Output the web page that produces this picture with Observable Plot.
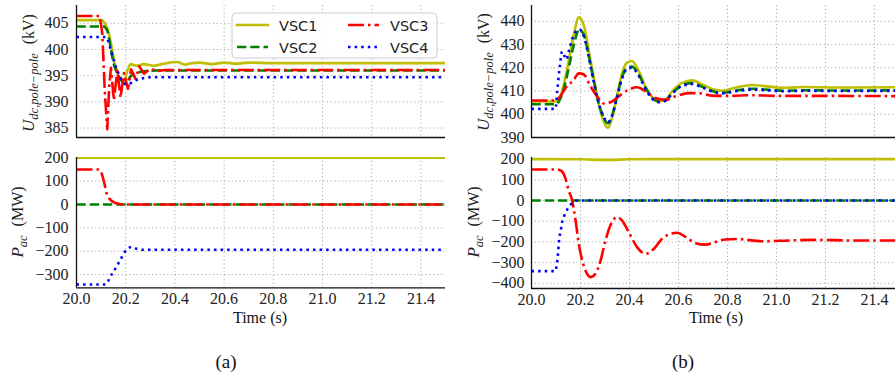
<!DOCTYPE html>
<html><head><meta charset="utf-8">
<script src="https://cdn.jsdelivr.net/npm/d3@7"></script>
<script src="https://cdn.jsdelivr.net/npm/@observablehq/plot@0.6"></script>
<style>
html,body{margin:0;padding:0;background:#fff;overflow:hidden}
#wrap{position:relative;width:895px;height:373px;overflow:hidden}
#wrap svg{position:absolute;max-width:none}
#wrap svg text, #wrap svg tspan{font-family:'Liberation Serif','Times New Roman',serif}
#wrap svg text.leg{font-family:'DejaVu Sans',sans-serif}
</style></head><body><div id="wrap"></div>
<script>
// ---------- tick values ----------
const xTicks = [20.0, 20.2, 20.4, 20.6, 20.8, 21.0, 21.2, 21.4];
const aTopTicks = [385, 390, 395, 400, 405];
const aBotTicks = [-300, -200, -100, 0, 100, 200];
const bTopTicks = [390, 400, 410, 420, 430, 440];
const bBotTicks = [-400, -300, -200, -100, 0, 100, 200];
const seriesNames = ["VSC1", "VSC2", "VSC3", "VSC4"];

// ---------- (a) U_dc [time s, kV] ----------
const aU_VSC1 = [[20,405.6],[20.10,405.6],[20.111,405.3],[20.132,403],[20.145,399.9],[20.158,396.7],[20.179,394.5],[20.195,394.2],[20.206,395.8],[20.22,397.2],[20.245,396.9],[20.274,397.2],[20.315,396.9],[20.356,397.3],[20.41,397.6],[20.44,397.1],[20.47,397.4],[20.50,397.5],[20.55,397.2],[20.60,397.5],[20.65,397.3],[20.70,397.5],[20.80,397.4],[21.0,397.4],[21.5,397.4]];
const aU_VSC2 = [[20,404.4],[20.11,404.4],[20.125,403.6],[20.139,400.3],[20.152,397.1],[20.166,395.5],[20.186,393.9],[20.206,394.0],[20.22,394.9],[20.25,395.6],[20.29,395.9],[20.33,396.0],[21.5,396.0]];
const aU_VSC3 = [[20,406.4],[20.095,406.4],[20.105,403],[20.115,392],[20.125,384.8],[20.133,393],[20.14,396.5],[20.152,390.3],[20.166,396.0],[20.179,390.8],[20.193,395.5],[20.209,392.5],[20.222,396.2],[20.24,394.4],[20.255,396.8],[20.274,395.4],[20.30,396.3],[20.33,395.9],[20.36,396.1],[21.5,396.1]];
const aU_VSC4 = [[20,402.4],[20.12,402.4],[20.13,401.5],[20.14,399.8],[20.155,397.4],[20.17,395.5],[20.18,394.5],[20.195,393.5],[20.21,393.3],[20.23,393.9],[20.26,394.4],[20.30,394.7],[21.5,394.7]];

// ---------- (a) P_ac [time s, MW] ----------
const aP_VSC1 = [[20,200],[21.5,200]];
const aP_VSC2 = [[20,0],[21.5,0]];
const aP_VSC3 = [[20,150],[20.09,150],[20.10,140],[20.11,105],[20.125,40],[20.14,18],[20.155,8],[20.17,3],[20.19,0],[21.5,0]];
const aP_VSC4 = [[20,-343],[20.118,-343],[20.128,-330],[20.138,-308],[20.152,-285],[20.166,-260],[20.179,-236],[20.196,-204],[20.21,-188],[20.225,-182],[20.245,-190],[20.27,-194],[21.5,-194]];

// ---------- (b) U_dc [time s, kV] ----------
const bU_VSC1 = [[20,405.5],[20.10,405.5],[20.112,406.2],[20.132,412.8],[20.152,422.9],[20.173,434.5],[20.193,441.7],[20.214,438.1],[20.234,427.2],[20.254,415.7],[20.275,404.1],[20.295,396.8],[20.312,394.2],[20.329,398.3],[20.35,408.4],[20.37,417.8],[20.39,422.2],[20.41,422.9],[20.438,418.6],[20.465,412],[20.49,407.7],[20.52,405.5],[20.547,406.2],[20.574,409.9],[20.615,413.5],[20.656,414.6],[20.697,412.8],[20.737,410.9],[20.778,410.1],[20.84,411.6],[20.90,412.6],[20.96,412.0],[21.03,411.4],[21.12,411.7],[21.25,411.5],[21.5,411.6]];
const bU_VSC2 = [[20,404.3],[20.10,404.3],[20.112,405.5],[20.132,411],[20.152,420],[20.173,430],[20.195,436.5],[20.214,434],[20.234,425],[20.254,414.5],[20.275,404.5],[20.295,398.5],[20.312,396.2],[20.329,399.5],[20.35,408],[20.37,416],[20.39,420],[20.41,420.5],[20.438,417],[20.465,411.5],[20.49,407.5],[20.52,405.5],[20.547,406],[20.574,409],[20.615,412.5],[20.656,413.4],[20.697,411.8],[20.737,410],[20.778,409.2],[20.84,410.3],[20.90,411.0],[20.96,410.6],[21.03,410.1],[21.12,410.3],[21.25,410.2],[21.5,410.3]];
const bU_VSC3 = [[20,405.9],[20.095,405.9],[20.112,407],[20.139,411.3],[20.173,414.9],[20.193,417.6],[20.214,417.1],[20.241,412],[20.268,407.7],[20.295,404.6],[20.329,405.5],[20.356,407.7],[20.397,410.6],[20.431,411.6],[20.465,409.9],[20.506,407],[20.547,406.2],[20.588,407.7],[20.642,409.1],[20.69,409.0],[20.737,408.0],[20.80,407.9],[20.9,408.2],[21.0,407.9],[21.2,407.9],[21.5,407.8]];
const bU_VSC4 = [[20,402.3],[20.098,402.3],[20.105,410],[20.115,420],[20.125,427],[20.135,425],[20.142,423.5],[20.152,427],[20.165,432],[20.18,435.5],[20.195,436.5],[20.214,433.5],[20.234,424.5],[20.254,414],[20.275,404.5],[20.295,398.8],[20.312,396.5],[20.329,399.5],[20.35,407.5],[20.37,415.5],[20.39,419.5],[20.41,420],[20.438,416.5],[20.465,411],[20.49,407],[20.52,405.2],[20.547,405.8],[20.574,408.8],[20.615,412.2],[20.656,413],[20.697,411.5],[20.737,409.8],[20.778,409],[20.84,410],[20.90,410.6],[20.96,410.3],[21.03,409.9],[21.12,410.1],[21.25,410.0],[21.5,410.1]];

// ---------- (b) P_ac [time s, MW] ----------
const bP_VSC1 = [[20,200],[20.2,199],[20.3,196],[20.4,199],[20.5,200],[21.5,200]];
const bP_VSC2 = [[20,0],[21.5,0]];
const bP_VSC3 = [[20,150],[20.1,150],[20.112,148],[20.125,140],[20.139,105],[20.152,48],[20.166,0],[20.18,-97],[20.193,-209],[20.207,-290],[20.227,-354],[20.241,-370],[20.261,-354],[20.282,-290],[20.302,-193],[20.322,-121],[20.35,-80],[20.37,-97],[20.397,-153],[20.431,-225],[20.465,-258],[20.50,-233],[20.533,-185],[20.567,-161],[20.595,-156],[20.63,-177],[20.67,-206],[20.71,-213],[20.75,-201],[20.79,-188],[20.84,-186],[20.94,-197],[21.05,-193],[21.15,-190],[21.3,-193],[21.5,-193]];
const bP_VSC4 = [[20,-341],[20.098,-341],[20.103,-310],[20.108,-260],[20.112,-200],[20.12,-140],[20.125,-105],[20.135,-70],[20.145,-45],[20.16,-20],[20.175,-5],[20.185,0],[21.5,0]];

// ---------- styles ----------
const styles = [
  {stroke: "#bfbf00", dash: null},
  {stroke: "#008000", dash: "9.25,4"},
  {stroke: "#ff0000", dash: "16,4,2.5,4"},
  {stroke: "#0000ff", dash: "2.5,4.1"}
];
const serif = "'Liberation Serif','Times New Roman',serif";
const sans = "'DejaVu Sans',sans-serif";
const wrap = document.getElementById("wrap");

function panel(o) {
  const marks = [
    Plot.gridX(xTicks, {stroke: "#aaaaaa", strokeOpacity: 1, strokeDasharray: "1.2,2.6", strokeWidth: 1}),
    Plot.gridY(o.yTicks, {stroke: "#aaaaaa", strokeOpacity: 1, strokeDasharray: "1.2,2.6", strokeWidth: 1}),
    Plot.axisY(o.yTicks, {tickSize: 0, tickPadding: o.padY, fontSize: 16, fontFamily: serif, color: "#222", label: null})
  ];
  if (o.showX) marks.push(Plot.axisX(xTicks, {tickSize: 0, tickPadding: 5, fontSize: 16, fontFamily: serif, color: "#222", tickFormat: d3.format(".1f"), label: null}));
  o.series.forEach((s, i) => {
    const st = styles[i];
    marks.push(Plot.line(s, {x: d => d[0], y: d => d[1], stroke: st.stroke, strokeWidth: 2.6,
      strokeDasharray: st.dash || undefined, strokeLinecap: st.dash ? "butt" : "square",
      curve: (o.linear && o.linear.includes(i)) ? "linear" : "monotone-x", clip: true}));
  });
  marks.push(Plot.ruleX([o.xDomain[0]], {stroke: "#111", strokeWidth: 1.3}));
  marks.push(Plot.ruleY([o.yDomain[0]], {stroke: "#111", strokeWidth: 1.3}));
  const svg = Plot.plot({
    width: o.width, height: o.height,
    marginLeft: o.ml, marginRight: o.mr, marginTop: o.mt, marginBottom: o.mb,
    x: {domain: o.xDomain, axis: null},
    y: {domain: o.yDomain, axis: null},
    style: {fontFamily: serif, fontSize: "16px", background: "transparent", overflow: "visible", color: "#222"},
    marks
  });
  svg.style.left = o.left + "px";
  svg.style.top = o.top + "px";
  wrap.appendChild(svg);
  return d3.select(svg);
}

function yLabel(sel, x, y, main, sub, unit) {
  const t = sel.append("text")
    .attr("transform", `translate(${x},${y}) rotate(-90)`)
    .attr("text-anchor", "middle").attr("dy", "0.35em")
    .attr("font-family", serif).attr("font-size", 16).attr("fill", "#222");
  t.append("tspan").attr("font-style", "italic").attr("font-size", 17).text(main);
  t.append("tspan").attr("font-style", "italic").attr("font-size", 12.5).attr("dy", 4).text(sub);
  t.append("tspan").attr("dy", -4).attr("dx", 9).text("(" + unit + ")");
}

function plainText(sel, x, y, size, str, anchor) {
  sel.append("text").attr("x", x).attr("y", y).attr("text-anchor", anchor || "middle")
    .attr("font-family", serif).attr("font-size", size).attr("fill", "#111").text(str);
}

// (a) top
const aTop = panel({left: 0, top: 0, width: 450, height: 140, ml: 76, mr: 5, mt: 5, mb: 3,
  xDomain: [20, 21.5], yDomain: [383.2, 408.4], yTicks: aTopTicks, padY: 8,
  series: [aU_VSC1, aU_VSC2, aU_VSC3, aU_VSC4], linear: [2], showX: false});
yLabel(aTop, 28, 73, "U", "dc,pole\u2212pole", "kV");

// legend
const lg = aTop.append("g");
lg.append("rect").attr("x", 232).attr("y", 13).attr("width", 205).attr("height", 45).attr("rx", 4)
  .attr("fill", "#fff").attr("fill-opacity", 0.85).attr("stroke", "#cccccc");
const legPos = [[237, 25], [237, 47], [348, 25], [348, 47]];
seriesNames.forEach((n, i) => {
  const [lx, ly] = legPos[i];
  const st = styles[i];
  lg.append("line").attr("x1", lx).attr("x2", lx + 31).attr("y1", ly).attr("y2", ly)
    .attr("stroke", st.stroke).attr("stroke-width", 2.6)
    .attr("stroke-dasharray", st.dash).attr("stroke-linecap", st.dash ? "butt" : "square");
  lg.append("text").attr("class", "leg").attr("x", lx + 42).attr("y", ly + 5.5).attr("text-anchor", "start")
    .attr("font-family", sans).attr("font-size", 14.5).attr("fill", "#222").text(n);
});

// (a) bottom
const aBot = panel({left: 0, top: 150, width: 450, height: 223, ml: 76, mr: 5, mt: 7, mb: 223 - 137.3,
  xDomain: [20, 21.5], yDomain: [-357, 201.3], yTicks: aBotTicks, padY: 8,
  series: [aP_VSC1, aP_VSC2, aP_VSC3, aP_VSC4], showX: true});
yLabel(aBot, 17, 72, "P", "ac", "MW");
plainText(aBot, 260, 173, 16, "Time (s)");
plainText(aBot, 226, 218, 19, "(a)");

// (b) top
const bTop = panel({left: 445, top: 0, width: 450, height: 140, ml: 86, mr: 0, mt: 5, mb: 3,
  xDomain: [20, 21.486], yDomain: [390, 446.8], yTicks: bTopTicks, padY: 7,
  series: [bU_VSC1, bU_VSC2, bU_VSC3, bU_VSC4], showX: false});
yLabel(bTop, 38, 72, "U", "dc,pole\u2212pole", "kV");

// (b) bottom
const bBot = panel({left: 445, top: 150, width: 450, height: 223, ml: 86, mr: 0, mt: 7, mb: 223 - 138,
  xDomain: [20, 21.486], yDomain: [-425, 207.7], yTicks: bBotTicks, padY: 7,
  series: [bP_VSC1, bP_VSC2, bP_VSC3, bP_VSC4], showX: true});
yLabel(bBot, 28, 72, "P", "ac", "MW");
plainText(bBot, 271, 173, 16, "Time (s)");
plainText(bBot, 238, 218, 19, "(b)");
</script></body></html>
